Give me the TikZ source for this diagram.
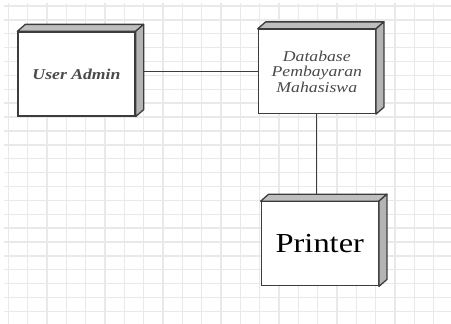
\documentclass[tikz,border=0pt]{standalone}
\usepackage{fontspec}
\setmainfont{Liberation Serif}
\usepackage{graphicx}
\usetikzlibrary{positioning}
\definecolor{gridgray}{HTML}{E9E9E9}
\definecolor{edgegray}{HTML}{3C3C3C}
\definecolor{sidegray}{HTML}{B4B4B4}
\definecolor{topgray}{HTML}{BEBEBE}
\definecolor{labelgray}{HTML}{4A4A4A}
\tikzstyle{device}=[draw=edgegray, line width=1.3pt, fill=white, minimum width=117pt, minimum height=84pt, inner sep=0pt, align=center]
\tikzstyle{side}=[draw=edgegray, line width=1.3pt, fill=sidegray, line join=round]
\tikzstyle{top}=[draw=edgegray, line width=1.3pt, fill=topgray, line join=round]
\tikzstyle{link}=[draw=edgegray, line width=1.2pt]
\newcommand{\wide}[1]{\scalebox{1.18}[1]{#1}}

\begin{document}
\begin{tikzpicture}[x=1pt,y=-1pt]
	\useasboundingbox (0,0) rectangle (451,324);
	% background grid
	\foreach \i in {0,...,22} {
		\draw[gridgray, line width=1.4pt] (8.3+19.34*\i,3) -- (8.3+19.34*\i,324);
		\draw[gridgray, line width=1.4pt] (4,6+13.88*\i) -- (451,6+13.88*\i);
	}
	\node[device, font=\fontsize{15}{16}\selectfont\bfseries\itshape, text=labelgray] (admin) at (76.5,74) {\wide{User Admin}};
	\node[device, right=122pt of admin, yshift=2.5pt, font=\fontsize{15}{15.5}\selectfont\itshape, text=labelgray] (db) {\wide{Database}\\\wide{Pembayaran}\\\wide{Mahasiswa}};
	\node[device, below=87pt of db, xshift=3pt, font=\fontsize{27.5}{30}\selectfont] (printer) {\wide{Printer}};
	\draw[link] (db.west) -- (db.west -| admin.east);
	\draw[link] (db.south) -- (db.south |- printer.north);
	% 3d faces
	\foreach \n in {admin,db,printer} {
		\filldraw[top] (\n.north west) -- ++(8,-7) -- ([shift={(8,-7)}]\n.north east) -- (\n.north east) -- cycle;
		\filldraw[side] (\n.north east) -- ++(8,-7) -- ([shift={(8,-7)}]\n.south east) -- (\n.south east) -- cycle;
	}
\end{tikzpicture}
\end{document}
